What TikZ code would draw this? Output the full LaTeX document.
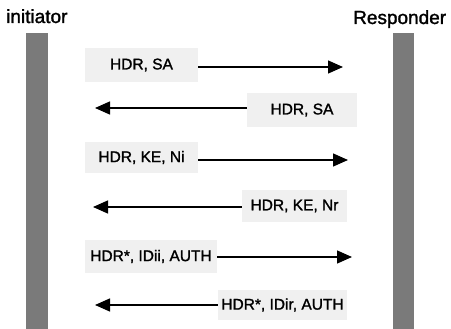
\documentclass[tikz,border=0pt]{standalone}
\usepackage{fontspec}
\setmainfont[FakeBold=1.5]{Liberation Sans}
\usetikzlibrary{arrows.meta}

\tikzset{
  lifeline/.style={draw=none, fill=black!52, inner sep=0pt, anchor=north west},
  msgbox/.style={draw=none, fill=black!6, inner sep=0pt,
                 font=\fontsize{15.5}{18}\selectfont},
  title/.style={inner sep=0pt, anchor=base west, font=\fontsize{19}{22}\selectfont},
  msgarrow/.style={line width=1.4pt, -{Triangle[length=15pt,width=13pt]}}
}

\begin{document}
\begin{tikzpicture}[x=1pt, y=-1pt]
  \useasboundingbox (0,0) rectangle (451,329);

  % party names
  \node[title] (tini) at (6,23) {initiator};
  \node[title] (tres) at (353,24) {Responder};

  % lifelines
  \node[lifeline, minimum width=22, minimum height=296] (lini) at (26,33) {};
  \node[lifeline, minimum width=21, minimum height=296] (lres) at (393,33) {};

  % message labels
  \node[msgbox, minimum width=113, minimum height=34] (m1) at (141.5,65)  {HDR, SA};
  \node[msgbox, minimum width=110, minimum height=34] (m2) at (302,110)   {HDR, SA};
  \node[msgbox, minimum width=113, minimum height=31] (m3) at (141.5,157.5) {HDR, KE, Ni};
  \node[msgbox, minimum width=105, minimum height=32] (m4) at (294.5,206) {HDR, KE, Nr};
  \node[msgbox, minimum width=132, minimum height=33] (m5) at (151,256.5) {HDR*, IDii, AUTH};
  \node[msgbox, minimum width=129, minimum height=30] (m6) at (282.5,305) {HDR*, IDir, AUTH};

  % arrow tips
  \coordinate (t1) at (343,67);
  \coordinate (t2) at (95,108);
  \coordinate (t3) at (348,160);
  \coordinate (t4) at (93,207);
  \coordinate (t5) at (352,257);
  \coordinate (t6) at (95,305);

  % messages
  \draw[msgarrow] (m1.east |- t1) -- (t1);
  \draw[msgarrow] (m2.west |- t2) -- (t2);
  \draw[msgarrow] (m3.east |- t3) -- (t3);
  \draw[msgarrow] (m4.west |- t4) -- (t4);
  \draw[msgarrow] (m5.east |- t5) -- (t5);
  \draw[msgarrow] (m6.west |- t6) -- (t6);
\end{tikzpicture}
\end{document}
